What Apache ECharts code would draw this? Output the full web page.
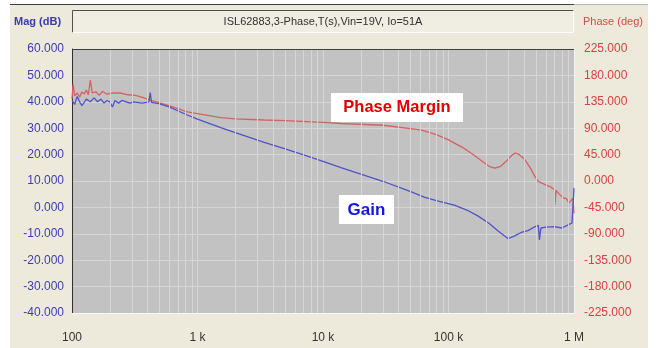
<!DOCTYPE html>
<html>
<head>
<meta charset="utf-8">
<script src="https://cdn.jsdelivr.net/npm/echarts@6/dist/echarts.min.js"></script>
<style>
  html, body { margin: 0; padding: 0; background: #ffffff; }
  #chart { width: 656px; height: 348px; }
</style>
</head>
<body>
<div id="chart"></div>
<script>
// Loop-gain measurement: ISL62883, 3-phase, Vin=19V, Io=51A
const chartTitle = 'ISL62883,3-Phase,T(s),Vin=19V, Io=51A';

// Frequency ticks (Hz) and their labels
const xTickValues = [100, 1000, 10000, 100000, 1000000];
const xTickLabels = ['100', '1 k', '10 k', '100 k', '1 M'];

// Gain trace
const gainFreq = [
  100, 105, 110, 115, 120, 130, 140, 150, 160, 170, 180, 190, 200, 210, 220, 235,
  250, 270, 290, 310, 330, 360, 390, 410, 420, 430, 500, 600, 830, 1000,
  1530, 2000, 3400, 5000, 7000, 10000, 13900, 20000, 30000, 50000, 64000, 80000,
  111000, 140000, 170000, 210000, 250000, 297000, 330000, 380000, 430000,
  480000, 520000, 530000, 545000, 600000, 700000, 800000, 900000, 964000, 1000000
];
const gainDb = [
  40.5, 39.0, 42.0, 40.0, 38.5, 41.0, 40.0, 41.5, 40.0, 41.0, 39.5, 40.5, 40.0, 38.0, 40.5, 39.5,
  40.5, 40.0, 39.5, 40.0, 39.8, 39.5, 39.8, 40.0, 43.5, 39.8, 39.2, 38.0, 35.0, 33.4,
  30.2, 28.3, 24.6, 22.2, 19.9, 17.4, 15.1, 12.6, 9.9, 6.0, 3.9, 2.6,
  0.9, -1.0, -3.1, -6.0, -9.0, -11.8, -11.0, -9.5, -8.8,
  -7.5, -6.8, -12.3, -7.8, -7.5, -7.3, -7.8, -6.6, -5.9, 7.3
];

// Phase trace
const phaseFreq = [
  100, 102, 105, 110, 115, 120, 125, 130, 135, 140, 145, 155, 165, 175, 190, 210,
  242, 280, 320, 360, 420, 500, 600, 830, 1000, 1530, 2000, 3400, 5000,
  10000, 14000, 30000, 60000, 80000, 100000, 130000, 160000, 190000, 215000,
  235000, 260000, 290000, 320000, 340000, 360000, 400000, 450000, 490000, 522000,
  560000, 600000, 650000, 700000, 705000, 720000, 760000, 820000, 870000, 910000,
  950000, 980000, 1000000
];
const phaseDeg = [
  140, 165, 145, 150, 143, 152, 148, 155, 147, 172, 150, 152, 146, 153, 148, 150,
  150, 147, 146, 143, 138, 133, 128, 118, 115, 108, 106, 104, 103,
  100, 98, 95, 87, 79, 70, 57, 44, 32, 24,
  22, 25, 34, 44, 47.5, 46, 38, 22, 7, -1,
  -4, -7, -10, -15, -41, -16, -22, -29, -30, -37,
  -33, -29, -55
];

// Minor log-grid positions (2..9 per decade)
const minorGrid = [];
for (let d = 100; d < 1000000; d *= 10) {
  for (let k = 2; k <= 9; k++) minorGrid.push({ xAxis: k * d });
}

const GRID = { left: 72, right: 82, top: 49, bottom: 35 };
const gridLineColor = '#D6D6D6';

const chart = echarts.init(document.getElementById('chart'), null, { renderer: 'canvas' });

chart.setOption({
  backgroundColor: '#ffffff',
  animation: false,
  grid: {
    left: GRID.left, right: GRID.right, top: GRID.top, bottom: GRID.bottom,
    show: true, backgroundColor: '#C2C2C2', borderWidth: 0
  },
  graphic: [
    // panel background
    { type: 'rect', z: -10, shape: { x: 10, y: 4, width: 638, height: 344 },
      style: { fill: '#EDEADC' } },
    { type: 'line', z: -9, shape: { x1: 10, y1: 4.5, x2: 574, y2: 4.5 },
      style: { stroke: '#404040', lineWidth: 1 } },
    { type: 'line', z: -9, shape: { x1: 574, y1: 4.5, x2: 648, y2: 4.5 },
      style: { stroke: '#B8B8B0', lineWidth: 1 } },
    // title box (sunken)
    { type: 'rect', z: -8, shape: { x: 72.5, y: 10.5, width: 501, height: 22 },
      style: { fill: '#F0EEE3', stroke: null } },
    { type: 'polyline', z: -7, shape: { points: [[72.5, 32.5], [72.5, 10.5], [573.5, 10.5]] },
      style: { stroke: '#505050', fill: null, lineWidth: 1 } },
    { type: 'polyline', z: -7, shape: { points: [[72.5, 32.5], [573.5, 32.5], [573.5, 10.5]] },
      style: { stroke: '#FFFFFF', fill: null, lineWidth: 1 } },
    { type: 'text', z: 5, style: { text: chartTitle, x: 323, y: 22, align: 'center',
      verticalAlign: 'middle', font: '11px "Liberation Sans", Arial, sans-serif', fill: '#303030' } },
    { type: 'text', z: 5, style: { text: 'Mag (dB)', x: 14, y: 22, align: 'left',
      verticalAlign: 'middle', font: 'bold 11px "Liberation Sans", Arial, sans-serif', fill: '#3A3AB0' } },
    { type: 'text', z: 5, style: { text: 'Phase (deg)', x: 583, y: 22, align: 'left',
      verticalAlign: 'middle', font: '11px "Liberation Sans", Arial, sans-serif', fill: '#D84848' } },
    // plot top edge (sunken)
    { type: 'line', z: 50, shape: { x1: 72, y1: 49.5, x2: 574, y2: 49.5 },
      style: { stroke: '#404040', lineWidth: 1 } },
    // annotations
    { type: 'rect', z: 60, shape: { x: 331, y: 93, width: 132, height: 29 },
      style: { fill: '#FFFFFF' } },
    { type: 'text', z: 61, style: { text: 'Phase Margin', x: 397, y: 107.5, align: 'center',
      verticalAlign: 'middle', font: 'bold 16.5px "Liberation Sans", Arial, sans-serif', fill: '#E00000' } },
    { type: 'rect', z: 60, shape: { x: 339, y: 195, width: 55, height: 29 },
      style: { fill: '#FFFFFF' } },
    { type: 'text', z: 61, style: { text: 'Gain', x: 366.5, y: 210, align: 'center',
      verticalAlign: 'middle', font: 'bold 17px "Liberation Sans", Arial, sans-serif', fill: '#1414E0' } }
  ],
  xAxis: {
    type: 'log', logBase: 10, min: 100, max: 1000000,
    axisLine: { show: true, onZero: false, lineStyle: { color: '#F8F8F8', width: 1 } },
    axisTick: { show: false },
    splitLine: { show: true, lineStyle: { color: gridLineColor, width: 1 } },
    axisLabel: {
      margin: 19, fontSize: 12, color: '#333333',
      fontFamily: '"Liberation Sans", Arial, sans-serif',
      showMinLabel: true, showMaxLabel: true,
      formatter: v => {
        const i = xTickValues.findIndex(t => Math.abs(t - v) / t < 1e-6);
        return i >= 0 ? xTickLabels[i] : '';
      }
    }
  },
  yAxis: [
    {
      type: 'value', position: 'left', min: -40, max: 60, interval: 10,
      axisLine: { show: true, onZero: false, lineStyle: { color: '#303030', width: 1 } },
      axisTick: { show: false },
      splitLine: { show: true, lineStyle: { color: gridLineColor, width: 1 } },
      axisLabel: { margin: 8, fontSize: 12, color: '#3C3CB4',
        fontFamily: '"Liberation Sans", Arial, sans-serif',
        formatter: v => v.toFixed(3) }
    },
    {
      type: 'value', position: 'right', min: -225, max: 225, interval: 45,
      axisLine: { show: true, onZero: false, lineStyle: { color: '#F4F4F4', width: 1 } },
      axisTick: { show: false },
      splitLine: { show: false },
      axisLabel: { margin: 10, fontSize: 12, color: '#DC4040',
        fontFamily: '"Liberation Sans", Arial, sans-serif',
        formatter: v => v.toFixed(3) }
    }
  ],
  series: [
    {
      name: 'grid', type: 'line', data: [], silent: true, z: 1,
      markLine: {
        silent: true, symbol: 'none', animation: false,
        label: { show: false },
        lineStyle: { color: gridLineColor, type: 'solid', width: 1 },
        data: minorGrid
      }
    },
    {
      name: 'Phase', type: 'line', yAxisIndex: 1, z: 3,
      showSymbol: false, smooth: false,
      data: phaseFreq.map((f, i) => [f, phaseDeg[i]]),
      lineStyle: { color: '#D46262', width: 1.3 }
    },
    {
      name: 'Gain', type: 'line', yAxisIndex: 0, z: 4,
      showSymbol: false, smooth: false,
      data: gainFreq.map((f, i) => [f, gainDb[i]]),
      lineStyle: { color: '#5252C8', width: 1.3 }
    }
  ]
});
</script>
</body>
</html>
